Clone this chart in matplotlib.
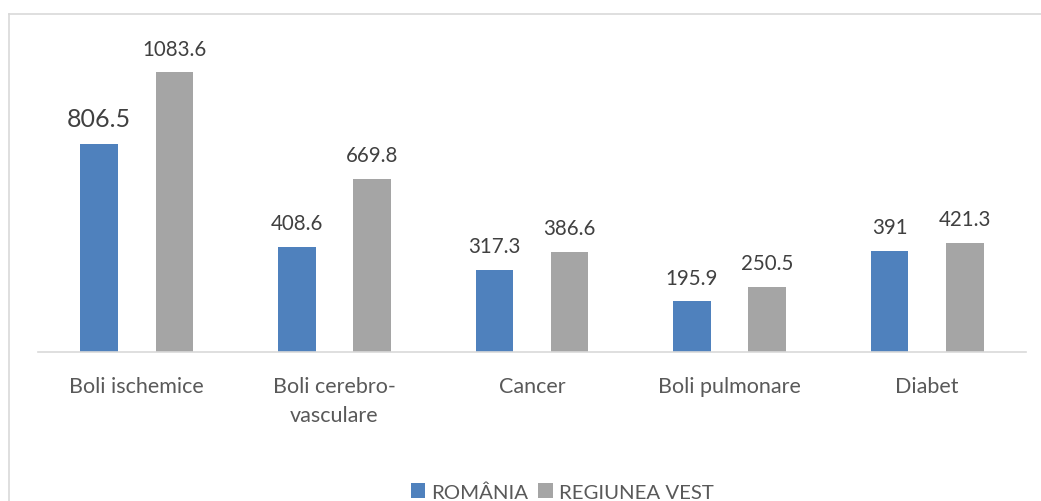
import matplotlib
matplotlib.use("Agg")
import matplotlib.pyplot as plt
from matplotlib.lines import Line2D
import numpy as np

categories = ["Boli ischemice", "Boli cerebro-\nvasculare", "Cancer", "Boli pulmonare", "Diabet"]
romania = [806.5, 408.6, 317.3, 195.9, 391]
vest = [1083.6, 669.8, 386.6, 250.5, 421.3]
romania_labels = ["806.5", "408.6", "317.3", "195.9", "391"]
vest_labels = ["1083.6", "669.8", "386.6", "250.5", "421.3"]
series_names = ["ROMÂNIA", "REGIUNEA VEST"]

FONT = ["Lato", "DejaVu Sans"]
plt.rcParams['font.family'] = FONT

W, H = 1041, 502
fig = plt.figure(figsize=(W / 100, H / 100), dpi=100)
fig.patch.set_facecolor("white")

# frame border (top & left visible)
fig.add_artist(Line2D([8.5 / W, 8.5 / W], [0, 1 - 14.5 / H], transform=fig.transFigure,
                      color="#d9d9d9", lw=1.2))
fig.add_artist(Line2D([8.5 / W, 1], [1 - 14.5 / H, 1 - 14.5 / H], transform=fig.transFigure,
                      color="#d9d9d9", lw=1.2))

left, right, bottom, top = 38, 1026, 353, 30
ax = fig.add_axes([left / W, 1 - bottom / H, (right - left) / W, (bottom - top) / H])
scale = 0.258  # px per unit
ax.set_ylim(0, (bottom - top) / scale)
ax.set_xlim(-0.5, len(categories) - 0.5)

x = np.arange(len(categories))
w = 0.19
off = 0.19
c1, c2 = "#4f81bd", "#a5a5a5"
b1 = ax.bar(x - off, romania, w, color=c1, label=series_names[0])
b2 = ax.bar(x + off, vest, w, color=c2, label=series_names[1])

for i, (r, lab) in enumerate(zip(romania, romania_labels)):
    fs = 18 if i == 0 else 14.8
    ax.annotate(lab, (x[i] - off, r), xytext=(0, 10), textcoords="offset points",
                ha="center", va="bottom", fontsize=fs, color="#404040")
for i, (v, lab) in enumerate(zip(vest, vest_labels)):
    ax.annotate(lab, (x[i] + off, v), xytext=(0, 10), textcoords="offset points",
                ha="center", va="bottom", fontsize=14.8, color="#404040")

for s in ["top", "right", "left"]:
    ax.spines[s].set_visible(False)
ax.spines["bottom"].set_color("#d9d9d9")
ax.spines["bottom"].set_linewidth(1.2)
ax.set_yticks([])
ax.set_xticks(x)
ax.set_xticklabels(categories, fontsize=15.5, color="#595959", linespacing=1.6, va="top")
ax.tick_params(axis="x", length=0, pad=17)

leg = fig.legend(handles=[b1, b2], labels=series_names, loc="center",
                 bbox_to_anchor=(562 / W, 1 - 493 / H), ncol=2, frameon=False,
                 fontsize=14.7, handlelength=0.7, handleheight=0.7, handletextpad=0.3,
                 columnspacing=0.5, labelcolor="#595959")

fig.savefig("out.png", dpi=100, facecolor="white")
